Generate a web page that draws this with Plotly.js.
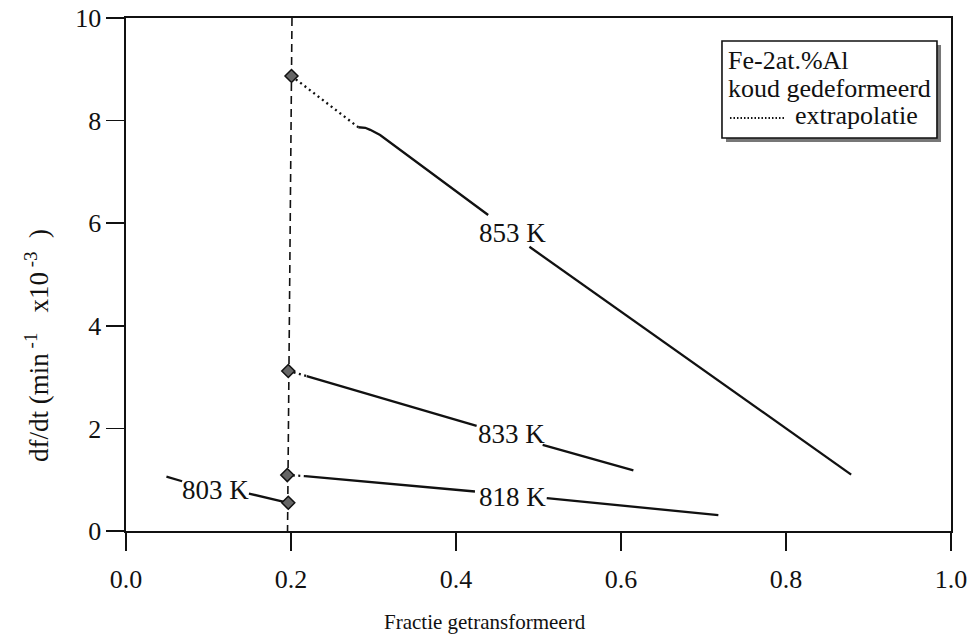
<!DOCTYPE html>
<html>
<head>
<meta charset="utf-8">
<script src="https://cdn.plot.ly/plotly-3.0.1.min.js"></script>
<style>html,body{margin:0;padding:0;background:#fff;}#chart{width:973px;height:639px;}</style>
</head>
<body>
<div id="chart"></div>
<script>
// Measured curves (fraction transformed vs df/dt in min^-1 x10^-3)
const x853 = [0.2816, 0.290, 0.296, 0.308, 0.439, null, 0.489, 0.879];
const y853 = [7.87, 7.86, 7.82, 7.72, 6.16, null, 5.54, 1.10];
const x833 = [0.219, 0.425, null, 0.505, 0.615];
const y833 = [3.02, 2.05, null, 1.68, 1.18];
const x818 = [0.217, 0.423, null, 0.510, 0.718];
const y818 = [1.07, 0.77, null, 0.64, 0.31];
const x803 = [0.049, 0.068, null, 0.149, 0.1967];
const y803 = [1.06, 0.97, null, 0.73, 0.55];

// Extrapolations (dotted)
const xExt853 = [0.2006, 0.2816];
const yExt853 = [8.87, 7.87];
const xExt833 = [0.1967, 0.219];
const yExt833 = [3.12, 3.02];
const xExt818 = [0.1955, 0.217];
const yExt818 = [1.09, 1.07];

// Extrapolated points at f = 0.2
const xPts = [0.2006, 0.1967, 0.1955, 0.1967];
const yPts = [8.87, 3.12, 1.09, 0.55];

// Vertical reference line at f = 0.2
const xRef = [0.2012, 0.1958];
const yRef = [10, 0];

// Curve labels
const labels = ["853 K", "833 K", "818 K", "803 K"];
const labelX = [0.469, 0.467, 0.468, 0.109];
const labelY = [5.80, 1.89, 0.67, 0.80];

// Legend texts
const legendLines = ["Fe-2at.%Al", "koud gedeformeerd"];
const legendItem = "extrapolatie";

const xTicks = [0, 0.2, 0.4, 0.6, 0.8, 1.0];
const yTicks = [0, 2, 4, 6, 8, 10];

const FONT = '"Liberation Serif", "Times New Roman", Times, "DejaVu Serif", serif';
const solid = {color: '#111', width: 2.3};
const dotted = {color: '#111', width: 2.3, dash: '2px,3.5px'};
function solidTrace(x, y) {
  return {x, y, mode: 'lines', line: solid, showlegend: false, connectgaps: false, hoverinfo: 'skip'};
}
function dotTrace(x, y) {
  return {x, y, mode: 'lines', line: dotted, showlegend: false, name: 'extrapolatie', hoverinfo: 'skip'};
}

const traces = [
  {x: xRef, y: yRef, mode: 'lines', line: {color: '#111', width: 1.6, dash: '8px,5px'}, showlegend: false},
  solidTrace(x853, y853), solidTrace(x833, y833), solidTrace(x818, y818), solidTrace(x803, y803),
  dotTrace(xExt853, yExt853), dotTrace(xExt833, yExt833), dotTrace(xExt818, yExt818),
  {x: xPts, y: yPts, mode: 'markers', showlegend: false,
   marker: {symbol: 'diamond', size: 10, color: '#666', line: {color: '#111', width: 1.5}}}
];

const annotations = labels.map((t, i) => ({
  x: labelX[i], y: labelY[i], xref: 'x', yref: 'y', text: t, showarrow: false,
  font: {family: FONT, size: 27, color: '#111'}
}));
annotations.push({
  xref: 'paper', yref: 'paper', x: 0.435, y: -0.177, xanchor: 'center', yanchor: 'middle',
  text: 'Fractie getransformeerd', showarrow: false, font: {family: FONT, size: 21, color: '#111'}
});
annotations.push({
  xref: 'paper', yref: 'paper', x: -0.108, y: 0.3626, xanchor: 'center', yanchor: 'middle',
  textangle: -90, text: 'df/dt (min<sup> -1</sup>   x10<sup> -3</sup>  )', showarrow: false,
  font: {family: FONT, size: 27, color: '#111'}
});
// legend box texts
const legFont = {family: FONT, size: 26, color: '#111'};
annotations.push({xref: 'paper', yref: 'paper', x: 0.7273, y: 0.9181, xanchor: 'left', yanchor: 'middle',
  text: legendLines[0], showarrow: false, font: legFont});
annotations.push({xref: 'paper', yref: 'paper', x: 0.7273, y: 0.8635, xanchor: 'left', yanchor: 'middle',
  text: legendLines[1], showarrow: false, font: legFont});
annotations.push({xref: 'paper', yref: 'paper', x: 0.8085, y: 0.8090, xanchor: 'left', yanchor: 'middle',
  text: legendItem, showarrow: false, font: legFont});

const layout = {
  width: 973, height: 639,
  margin: {l: 126, r: 22, t: 18, b: 108},
  paper_bgcolor: '#fff', plot_bgcolor: '#fff',
  font: {family: FONT, color: '#111'},
  showlegend: false,
  xaxis: {
    range: [0, 1], tickvals: xTicks, tickformat: '.1f',
    ticks: 'outside', ticklen: 18, tickwidth: 1.6, tickcolor: '#111',
    showline: true, linecolor: '#111', linewidth: 1.6, mirror: true,
    showgrid: false, zeroline: false, ticklabelstandoff: 6,
    tickfont: {family: FONT, size: 26, color: '#111'}
  },
  yaxis: {
    range: [0, 10], tickvals: yTicks,
    ticks: 'outside', ticklen: 18, tickwidth: 1.6, tickcolor: '#111',
    showline: true, linecolor: '#111', linewidth: 1.6, mirror: true,
    showgrid: false, zeroline: false,
    tickfont: {family: FONT, size: 26, color: '#111'}
  },
  shapes: [
    {type: 'rect', xref: 'paper', yref: 'paper', layer: 'above',
     x0: 0.7273, x1: 0.9879, y0: 0.7583, y1: 0.9474,
     fillcolor: '#777', line: {width: 0}},
    {type: 'rect', xref: 'paper', yref: 'paper', layer: 'above',
     x0: 0.7224, x1: 0.9830, y0: 0.7661, y1: 0.9552,
     fillcolor: '#fff', line: {color: '#111', width: 1.6}},
    {type: 'line', xref: 'paper', yref: 'paper', layer: 'above',
     x0: 0.7321, x1: 0.7988, y0: 0.8051, y1: 0.8051,
     line: {color: '#111', width: 2, dash: '1.5px,2px'}}
  ],
  annotations: annotations
};

Plotly.newPlot('chart', traces, layout, {staticPlot: true});
</script>
</body>
</html>
